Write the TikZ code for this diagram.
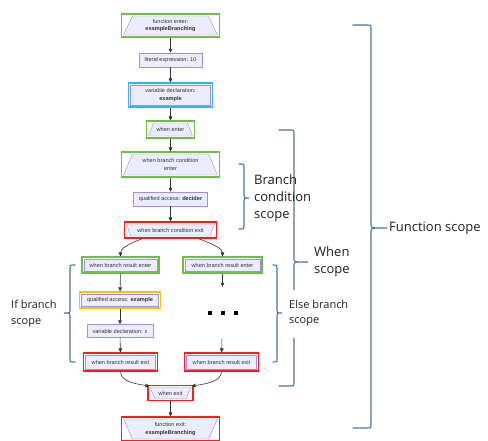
\documentclass[tikz,border=0pt]{standalone}
\usepackage{fontspec}
\setmainfont{Liberation Sans}
\newfontfamily\labelfont{Open Sans}
\usetikzlibrary{arrows.meta,calc}

\definecolor{nodefill}{HTML}{ECECFF}
\definecolor{nodeline}{HTML}{A38FE2}
\definecolor{edgecol}{HTML}{333333}
\definecolor{hlgreen}{HTML}{6DBE45}
\definecolor{hlred}{HTML}{FF1A1A}
\definecolor{hlcyan}{HTML}{2DB7F5}
\definecolor{hlorange}{HTML}{FFC000}
\definecolor{bracecol}{HTML}{44779F}
\definecolor{labeltext}{HTML}{1F1F1F}

\tikzset{
  nodetext/.style={font=\fontsize{5.6}{7.5}\selectfont, text=edgecol, align=center, inner sep=0pt},
  innerline/.style={draw=nodeline, fill=nodefill, line width=0.45pt},
  plainbox/.style={nodetext, rectangle, draw=nodeline, fill=nodefill, line width=0.45pt},
  hlrect/.style={nodetext, rectangle, draw=#1, line width=1.1pt, fill=white,
    path picture={\draw[innerline]
      ([shift={(2pt,-2pt)}]path picture bounding box.north west) rectangle
      ([shift={(-2pt,2pt)}]path picture bounding box.south east);}},
  % trapezoid, wide side at the bottom
  hltrapup/.style 2 args={nodetext, rectangle, draw=#1, line width=1.1pt, fill=white,
    path picture={\draw[innerline]
      ([shift={(2pt,2pt)}]path picture bounding box.south west) --
      ([shift={(-2pt,2pt)}]path picture bounding box.south east) --
      ([shift={(-2pt-#2,-2pt)}]path picture bounding box.north east) --
      ([shift={(2pt+#2,-2pt)}]path picture bounding box.north west) -- cycle;}},
  % trapezoid, wide side at the top
  hltrapdown/.style 2 args={nodetext, rectangle, draw=#1, line width=1.1pt, fill=white,
    path picture={\draw[innerline]
      ([shift={(2pt,-2pt)}]path picture bounding box.north west) --
      ([shift={(-2pt,-2pt)}]path picture bounding box.north east) --
      ([shift={(-2pt-#2,2pt)}]path picture bounding box.south east) --
      ([shift={(2pt+#2,2pt)}]path picture bounding box.south west) -- cycle;}},
  ellipsisbox/.style={rectangle, inner sep=0pt, minimum width=34pt, minimum height=52pt,
    path picture={
      \foreach \dx in {-13,0,13}{
        \fill[black] ([shift={(\dx pt-2pt,-2pt)}]path picture bounding box.center)
          rectangle ++(4pt,4pt);}}},
  edge/.style={draw=edgecol, line width=0.6pt, -{Triangle[length=4pt,width=3.6pt]}},
  brace/.style={draw=bracecol, line width=1.1pt, line cap=round},
  scopelabel/.style={text=labeltext, align=left, inner sep=0pt},
}

% right-pointing (tip x > line x) or left-pointing brace:
% #1 end x, #2 line x, #3 tip x, #4 top y, #5 tip y, #6 bottom y
\newcommand{\scopebrace}[6]{%
  \draw[brace] (#1,#4) -- ({#2+3*sign(#1-#2)},#4) .. controls (#2,#4) .. (#2,#4+3)
    -- (#2,#5-3) .. controls (#2,#5) .. (#3,#5) .. controls (#2,#5) .. (#2,#5+3)
    -- (#2,#6-3) .. controls (#2,#6) .. ({#2+3*sign(#1-#2)},#6) -- (#1,#6);}

\begin{document}
\begin{tikzpicture}[x=1pt, y=-1pt]
\useasboundingbox[fill=white] (0,0) rectangle (488,440);

% main column
\node[hltrapup={hlgreen}{9pt}, minimum width=98pt, minimum height=23pt] (fenter) at (170.5,25.5)
  {function enter:\\\textbf{exampleBranching}};
\node[plainbox, minimum width=63pt, minimum height=14pt] (lit) at (170.5,60) {literal expression: 10};
\node[hlrect=hlcyan, minimum width=84pt, minimum height=24pt] (vdecl) at (170.5,95)
  {variable declaration:\\\textbf{example}};
\node[hltrapup={hlgreen}{5pt}, minimum width=48pt, minimum height=17pt] (wenter) at (170.5,129.5) {when enter};
\node[hltrapup={hlgreen}{9pt}, minimum width=98pt, minimum height=25pt] (bcenter) at (170.5,164.5)
  {when branch condition\\enter};
\node[plainbox, minimum width=74pt, minimum height=14pt] (qadec) at (170.5,199)
  {qualified access: \textbf{decider}};
\node[hltrapdown={hlred}{4pt}, minimum width=92pt, minimum height=16pt] (bcexit) at (170.5,230)
  {when branch condition exit};

% if branch
\node[hlrect=hlgreen, minimum width=77pt, minimum height=16pt] (lenter) at (120.5,265) {when branch result enter};
\node[hlrect=hlorange, minimum width=81pt, minimum height=16pt] (qaex) at (120,300)
  {qualified access: \textbf{example}};
\node[plainbox, minimum width=66pt, minimum height=13pt] (vdx) at (120,331) {variable declaration: x};
\node[hlrect=hlred, minimum width=74pt, minimum height=18pt] (lexit) at (120.5,362) {when branch result exit};

% else branch
\node[hlrect=hlgreen, minimum width=79pt, minimum height=16pt] (renter) at (222.5,265) {when branch result enter};
\node[ellipsisbox] (ellip) at (222.5,313) {};
\node[hlrect=hlred, minimum width=74pt, minimum height=18pt] (rexit) at (221.5,362) {when branch result exit};

% join and exit
\node[hltrapdown={hlred}{5pt}, minimum width=45pt, minimum height=15pt] (wexit) at (170.5,393) {when exit};
\node[hltrapdown={hlred}{9pt}, minimum width=98pt, minimum height=24pt] (fexit) at (170.5,429)
  {function exit:\\\textbf{exampleBranching}};

% connectors
\draw[edge] (fenter) -- (lit);
\draw[edge] (lit) -- (vdecl);
\draw[edge] (vdecl) -- (wenter);
\draw[edge] (wenter) -- (bcenter);
\draw[edge] (bcenter) -- (qadec);
\draw[edge] (qadec) -- (bcexit);
\draw[edge] ($(bcexit.south)+(-28,0)$) .. controls ($(bcexit.south)+(-43,6)$) and ($(lenter.north)+(0,-8)$) .. (lenter.north);
\draw[edge] ($(bcexit.south)+(28,0)$) .. controls ($(bcexit.south)+(43,6)$) and ($(renter.north)+(0,-8)$) .. (renter.north);
\draw[edge] (lenter) -- (qaex);
\draw[edge] (qaex) -- (vdx);
\draw[edge] (vdx) -- (lexit);
\draw[edge] (renter) -- (ellip);
\draw[edge] (ellip) -- (rexit);
\draw[edge] (lexit.south) .. controls ($(lexit.south)+(0,10)$) and ($(wexit.north west)+(-12,-1)$) .. ($(wexit.north west)+(2,1)$);
\draw[edge] (rexit.south) .. controls ($(rexit.south)+(0,10)$) and ($(wexit.north east)+(12,-1)$) .. ($(wexit.north east)+(-2,1)$);
\draw[edge] (wexit) -- (fexit);

% scope braces
\scopebrace{239}{244}{249}{164}{198}{229}
\scopebrace{279}{294}{308}{130}{262}{386}
\scopebrace{273}{277}{282}{265}{313}{362}
\scopebrace{75}{70}{64}{265}{313}{362}
\scopebrace{353}{371}{387}{25}{228}{428}

% scope labels
\node[scopelabel, anchor=west, font=\labelfont\fontsize{13}{17}\selectfont] (lblcond) at (254,198)
  {Branch\\condition\\scope};
\node[scopelabel, anchor=west, font=\labelfont\fontsize{13}{17}\selectfont] (lblwhen) at (314,262)
  {When\\scope};
\node[scopelabel, anchor=west, font=\labelfont\fontsize{11}{15}\selectfont, fill=white, inner xsep=1pt, inner ysep=11pt] (lblelse) at (288,313.5)
  {Else branch\\scope};
\node[scopelabel, anchor=west, font=\labelfont\fontsize{11}{16}\selectfont] (lblif) at (11,314)
  {If branch\\scope};
\node[scopelabel, anchor=west, font=\labelfont\fontsize{13}{17}\selectfont] (lblfunc) at (389,228)
  {Function scope};
\end{tikzpicture}
\end{document}
